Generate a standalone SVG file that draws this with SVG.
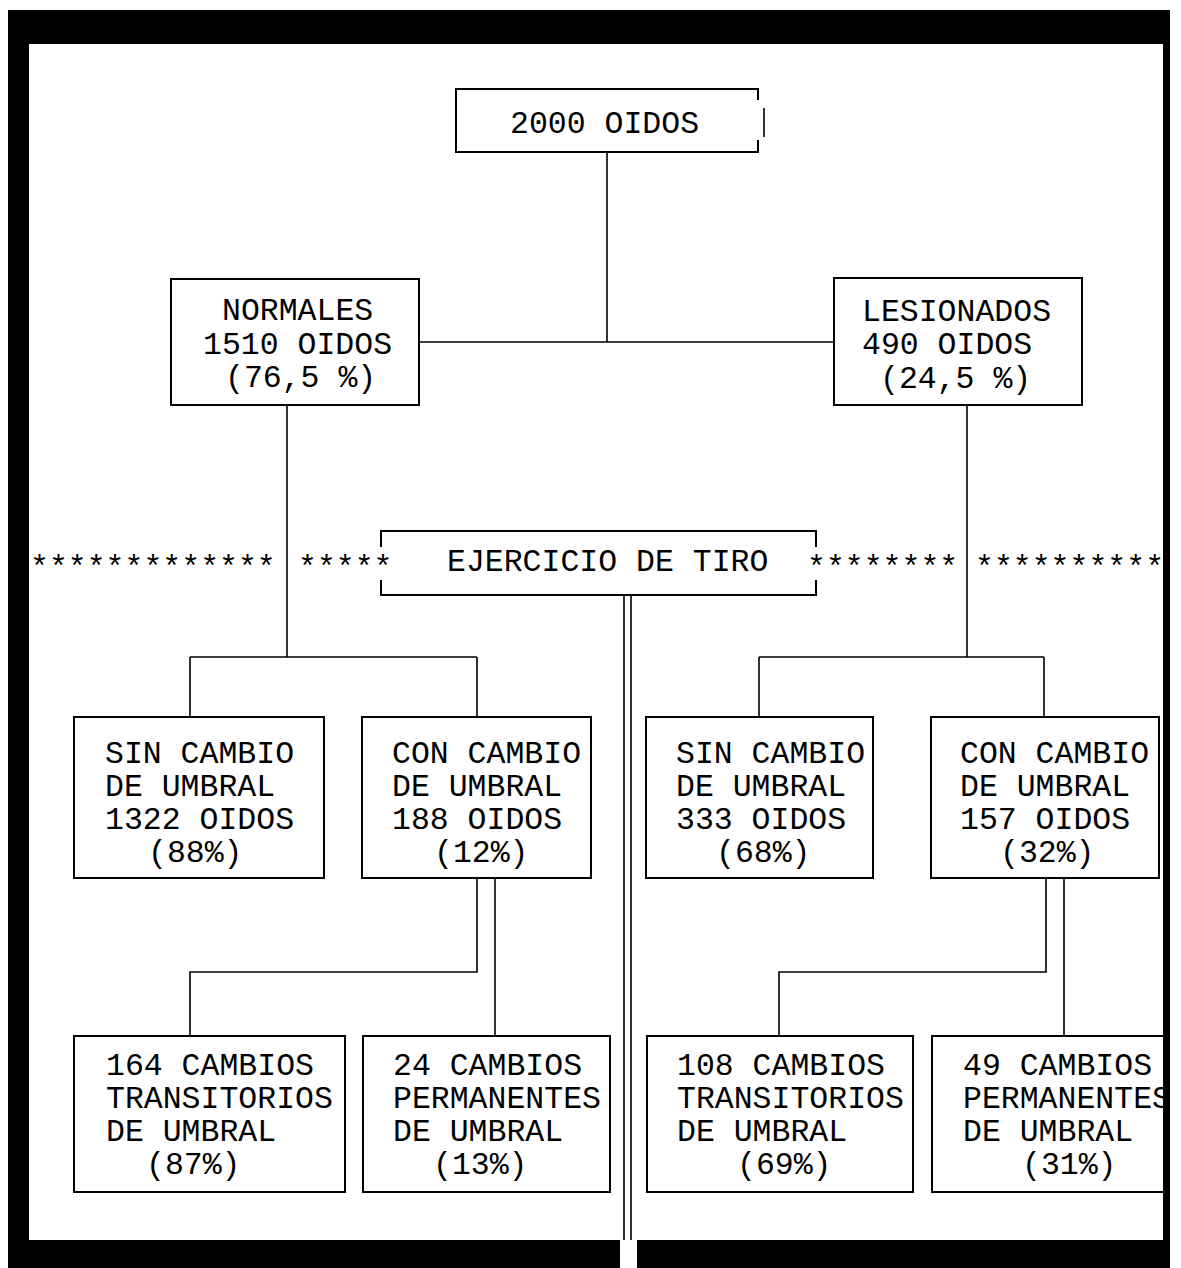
<svg xmlns="http://www.w3.org/2000/svg" width="1181" height="1268" viewBox="0 0 1181 1268">
<style>
.bx{fill:#fff;stroke:#000;stroke-width:2}
.ln{fill:none;stroke:#000;stroke-width:1.6}
.t{font-family:"Liberation Mono","DejaVu Sans Mono",monospace;font-size:31.5px;fill:#000}
.bar{fill:#000}
</style>
<rect width="1181" height="1268" fill="#fff"/>
<g id="frame">
<rect class="bar" x="8" y="10" width="21" height="1258"/>
<rect class="bar" x="8" y="10" width="1162" height="34"/>
<rect class="bar" x="1163" y="10" width="7" height="1258"/>
<rect class="bar" x="29" y="1240" width="591" height="28"/>
<rect class="bar" x="637" y="1240" width="528" height="28"/>
</g>
<g id="connectors">
<path class="ln" d="M607 152V342M419 342H834"/>
<path class="ln" d="M287 405V657M190 657H477M190 657V717M477 657V717"/>
<path class="ln" d="M967 405V657M759 657H1044M759 657V717M1044 657V717"/>
<path class="ln" d="M477 878V972H190V1036M495 878V1036"/>
<path class="ln" d="M1046 878V972H779V1036M1064 878V1036"/>
<path class="ln" d="M624 595V1240M631 595V1240"/>
</g>
<g id="n-total">
<path class="bx" d="M758 100V89H456V152H758V140"/>
<path class="ln" d="M764 108V137" stroke-width="2"/>
<text class="t" x="510" y="133">2000 OIDOS</text>
</g>
<g id="n-normales">
<rect class="bx" x="171" y="279" width="248" height="126"/>
<text class="t" x="222" y="320">NORMALES</text>
<text class="t" x="203" y="354">1510 OIDOS</text>
<text class="t" x="225" y="387">(76,5 %)</text>
</g>
<g id="n-lesionados">
<rect class="bx" x="834" y="278" width="248" height="127"/>
<text class="t" x="862" y="321">LESIONADOS</text>
<text class="t" x="862" y="354">490 OIDOS</text>
<text class="t" x="880" y="388">(24,5 %)</text>
</g>
<g id="n-ejercicio">
<path class="bx" d="M381 547V531H816V547M381 580V595H816V580" fill="none"/>
<text class="t" x="447" y="571">EJERCICIO DE TIRO</text>
<text class="t" x="30" y="577">*************</text>
<text class="t" x="298" y="577">*****</text>
<text class="t" x="807" y="577">********</text>
<text class="t" x="975" y="577">**********</text>
</g>
<g id="n-sin-l">
<rect class="bx" x="74" y="717" width="250" height="161"/>
<text class="t" x="105" y="763">SIN CAMBIO</text>
<text class="t" x="105" y="796">DE UMBRAL</text>
<text class="t" x="105" y="829">1322 OIDOS</text>
<text class="t" x="148" y="862">(88%)</text>
</g>
<g id="n-con-l">
<rect class="bx" x="362" y="717" width="229" height="161"/>
<text class="t" x="392" y="763">CON CAMBIO</text>
<text class="t" x="392" y="796">DE UMBRAL</text>
<text class="t" x="392" y="829">188 OIDOS</text>
<text class="t" x="434" y="862">(12%)</text>
</g>
<g id="n-sin-r">
<rect class="bx" x="646" y="717" width="227" height="161"/>
<text class="t" x="676" y="763">SIN CAMBIO</text>
<text class="t" x="676" y="796">DE UMBRAL</text>
<text class="t" x="676" y="829">333 OIDOS</text>
<text class="t" x="716" y="862">(68%)</text>
</g>
<g id="n-con-r">
<rect class="bx" x="931" y="717" width="228" height="161"/>
<text class="t" x="960" y="763">CON CAMBIO</text>
<text class="t" x="960" y="796">DE UMBRAL</text>
<text class="t" x="960" y="829">157 OIDOS</text>
<text class="t" x="1000" y="862">(32%)</text>
</g>
<g id="n-trans-l">
<rect class="bx" x="74" y="1036" width="271" height="156"/>
<text class="t" x="106" y="1075">164 CAMBIOS</text>
<text class="t" x="106" y="1108">TRANSITORIOS</text>
<text class="t" x="106" y="1141">DE UMBRAL</text>
<text class="t" x="146" y="1174">(87%)</text>
</g>
<g id="n-perm-l">
<rect class="bx" x="363" y="1036" width="247" height="156"/>
<text class="t" x="393" y="1075">24 CAMBIOS</text>
<text class="t" x="393" y="1108">PERMANENTES</text>
<text class="t" x="393" y="1141">DE UMBRAL</text>
<text class="t" x="433" y="1174">(13%)</text>
</g>
<g id="n-trans-r">
<rect class="bx" x="647" y="1036" width="266" height="156"/>
<text class="t" x="677" y="1075">108 CAMBIOS</text>
<text class="t" x="677" y="1108">TRANSITORIOS</text>
<text class="t" x="677" y="1141">DE UMBRAL</text>
<text class="t" x="737" y="1174">(69%)</text>
</g>
<g id="n-perm-r">
<path class="bx" d="M1163 1036H932V1192H1163"/>
<text class="t" x="963" y="1075">49 CAMBIOS</text>
<text class="t" x="963" y="1108">PERMANENTES</text>
<text class="t" x="963" y="1141">DE UMBRAL</text>
<text class="t" x="1022" y="1174">(31%)</text>
</g>
</svg>
